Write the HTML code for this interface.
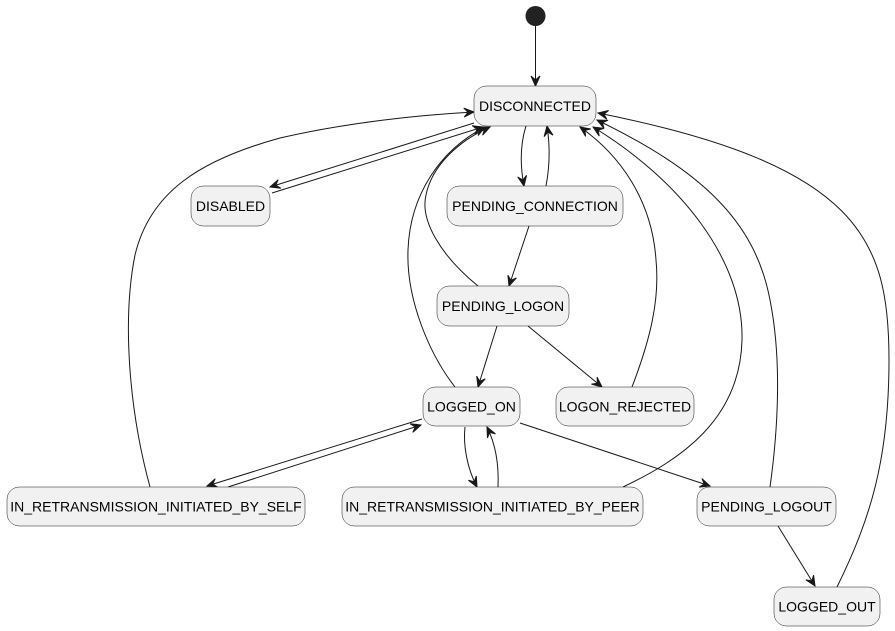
<!DOCTYPE html>
<html><head><meta charset="utf-8">
<style>
html,body{margin:0;padding:0;background:#fff;}
svg{display:block;}
text{font-family:"Liberation Sans",sans-serif;font-size:14px;fill:#000;}
</style></head>
<body>
<svg width="895" height="631" viewBox="0 0 895 631" xmlns="http://www.w3.org/2000/svg">
<defs>
<marker id="a" markerUnits="userSpaceOnUse" viewBox="-11 -5 12 10" markerWidth="12" markerHeight="10" refX="0" refY="0" orient="auto">
<path d="M0,0 L-10,-4.5 L-6,0 L-10,4.5 Z" fill="#181818" stroke="#181818" stroke-width="1"/>
</marker>
</defs>

<circle cx="535.5" cy="16" r="10" fill="#222"/>

<g fill="none" stroke="#181818" stroke-width="1" marker-end="url(#a)">
<path d="M535.5,26 L535.5,86"/>
<path d="M474,123 L270,187"/>
<path d="M272,193 L483,127"/>
<path d="M150,487 C129,410 122,320 135,255 C150,192 200,160 280,138 C350,122 420,115 474,112"/>
<path d="M526,126 C520,145 520,165 524,186"/>
<path d="M546,186 C550,165 550,145 547,126"/>
<path d="M529,226 L509,286"/>
<path d="M478,286 C440,255 420,220 426,195 C432,165 460,140 490,127"/>
<path d="M455,387 C430,355 406,300 408,250 C410,195 440,150 485,127"/>
<path d="M497,326 L478,387"/>
<path d="M528,326 L602,387"/>
<path d="M632,387 C650,340 660,300 656,260 C652,200 620,155 580,127"/>
<path d="M623,487 C680,460 740,420 742,340 C744,260 680,180 593,127"/>
<path d="M770,487 C778,430 782,360 770,300 C755,220 700,170 597,120"/>
<path d="M837,587 C870,520 889,460 889,360 C889,240 860,165 598,113"/>
<path d="M422,419 L207,486"/>
<path d="M228,487 L421,425"/>
<path d="M465,427 C463,445 467,468 477,487"/>
<path d="M498,487 C499,465 496,445 487,427"/>
<path d="M520,423 L710,486"/>
<path d="M778,526 L815,586"/>
</g>

<g fill="#F1F1F1" stroke="#181818" stroke-width="0.5">
<rect x="474" y="86" width="122" height="40" rx="12.5"/>
<rect x="191" y="186" width="79" height="40" rx="12.5"/>
<rect x="447" y="186" width="176" height="40" rx="12.5"/>
<rect x="437" y="286" width="132" height="40" rx="12.5"/>
<rect x="423" y="387" width="97" height="39" rx="12.5"/>
<rect x="556" y="387" width="138" height="39" rx="12.5"/>
<rect x="7" y="487" width="298" height="39" rx="12.5"/>
<rect x="342" y="487" width="301" height="39" rx="12.5"/>
<rect x="697" y="487" width="139" height="39" rx="12.5"/>
<rect x="774" y="587" width="106" height="39" rx="12.5"/>
</g>

<g text-anchor="middle">
<text x="535" y="111">DISCONNECTED</text>
<text x="230.5" y="211">DISABLED</text>
<text x="535" y="211">PENDING_CONNECTION</text>
<text x="503" y="311">PENDING_LOGON</text>
<text x="471.5" y="411.5">LOGGED_ON</text>
<text x="625" y="411.5">LOGON_REJECTED</text>
<text x="156" y="511.5">IN_RETRANSMISSION_INITIATED_BY_SELF</text>
<text x="492.5" y="511.5">IN_RETRANSMISSION_INITIATED_BY_PEER</text>
<text x="766.5" y="511.5">PENDING_LOGOUT</text>
<text x="827" y="611.5">LOGGED_OUT</text>
</g>
</svg>
</body></html>
